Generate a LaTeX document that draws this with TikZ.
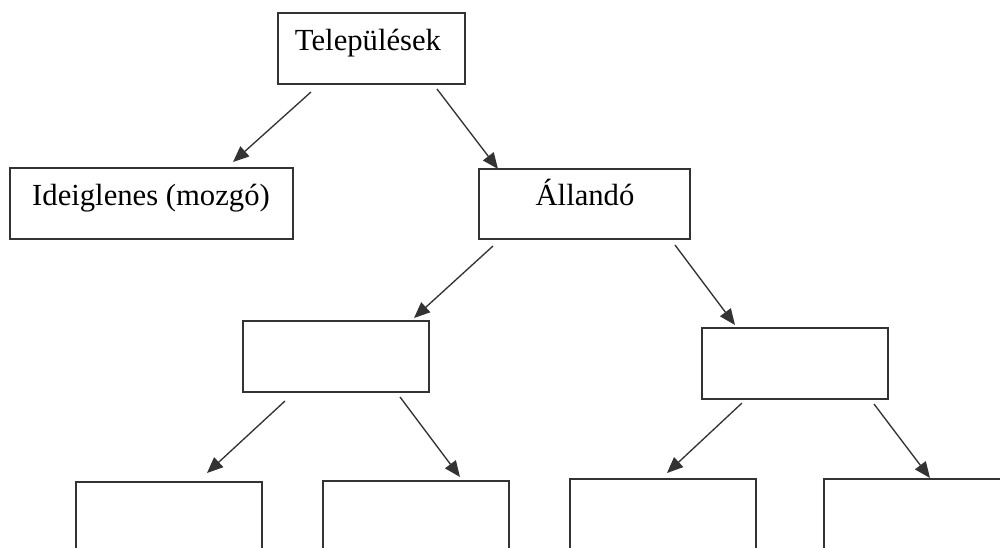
\documentclass[tikz,border=0pt]{standalone}
\usepackage{fontspec}
\setmainfont{Liberation Serif}
\usetikzlibrary{arrows.meta}
\begin{document}
\begin{tikzpicture}[x=0.75pt,y=-0.75pt,
  box/.style={draw=black!80, line width=1.1pt, rectangle, inner sep=0pt},
  lbl/.style={anchor=base, inner sep=0pt, font=\fontsize{23}{27}\selectfont},
  arr/.style={draw=black!80, line width=1pt, -{Triangle[length=12pt,width=10pt]}}]
\useasboundingbox (0,0) rectangle (1000,547);
\clip (0,0) rectangle (1000,547);
% boxes
\node[box, minimum width=140.25pt, minimum height=53.25pt] (tel) at (371.5,48.5) {};
\node[box, minimum width=212.25pt, minimum height=53.25pt] (ide) at (151.5,203.5) {};
\node[box, minimum width=158.25pt, minimum height=52.5pt] (all) at (584.5,204) {};
\node[box, minimum width=139.5pt, minimum height=53.25pt] (ml) at (336,356.5) {};
\node[box, minimum width=139.5pt, minimum height=53.25pt] (mr) at (795,363.5) {};
\node[box, minimum width=139.5pt, minimum height=60pt] (b1) at (169,522) {};
\node[box, minimum width=139.5pt, minimum height=60pt] (b2) at (416,521) {};
\node[box, minimum width=139.5pt, minimum height=60pt] (b3) at (663,519) {};
\node[box, minimum width=139.5pt, minimum height=60pt] (b4) at (917,519) {};
% labels
\node[lbl] (telt) at (368,50) {Települések};
\node[lbl] (idet) at (151,205) {Ideiglenes (mozgó)};
\node[lbl] (allt) at (585,205) {Állandó};
% connector ends
\coordinate (a1s) at (311,92);  \coordinate (a1e) at (233,162);
\coordinate (a2s) at (437,89);  \coordinate (a2e) at (498,169);
\coordinate (a3s) at (493,246); \coordinate (a3e) at (414,318);
\coordinate (a4s) at (675,245); \coordinate (a4e) at (735,325);
\coordinate (a5s) at (285,401); \coordinate (a5e) at (207,473);
\coordinate (a6s) at (400,397); \coordinate (a6e) at (460,477);
\coordinate (a7s) at (742,403); \coordinate (a7e) at (667,473);
\coordinate (a8s) at (874,404); \coordinate (a8e) at (930,478);
\draw[arr] (a1s) -- (a1e);
\draw[arr] (a2s) -- (a2e);
\draw[arr] (a3s) -- (a3e);
\draw[arr] (a4s) -- (a4e);
\draw[arr] (a5s) -- (a5e);
\draw[arr] (a6s) -- (a6e);
\draw[arr] (a7s) -- (a7e);
\draw[arr] (a8s) -- (a8e);
\end{tikzpicture}
\end{document}
